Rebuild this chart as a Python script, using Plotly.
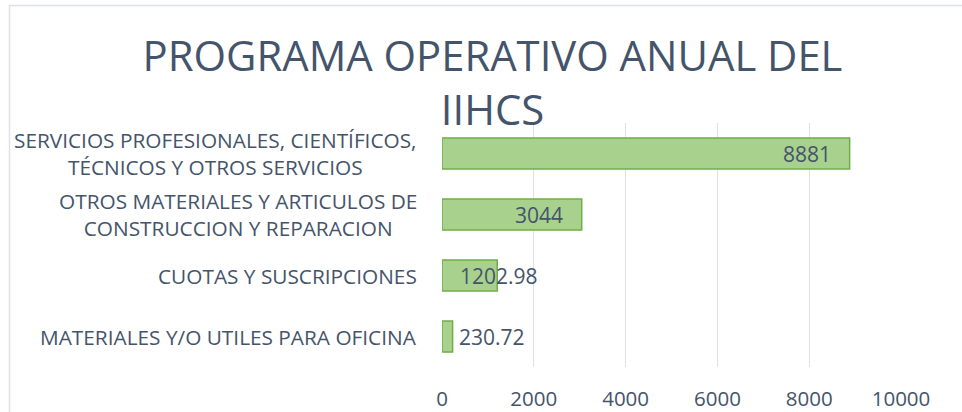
import plotly.graph_objects as go

categories = [
    "SERVICIOS PROFESIONALES, CIENTÍFICOS,<br>TÉCNICOS Y OTROS SERVICIOS",
    "OTROS MATERIALES Y ARTICULOS DE<br>CONSTRUCCION Y REPARACION",
    "CUOTAS Y SUSCRIPCIONES",
    "MATERIALES Y/O UTILES PARA OFICINA",
]
values = [8881, 3044, 1202.98, 230.72]
value_labels = ["8881", "3044", "1202.98", "230.72"]
x_ticks = [0, 2000, 4000, 6000, 8000, 10000]

# label placement per bar: inside end, inside end, start-clamped, outside end
label_modes = ["inside", "inside", "clamp", "outside"]

TXT = "#44546a"
FONT = "Open Sans"
W, H = 962, 412
L, R, T, B = 442, 61, 123, 45

fig = go.Figure()
fig.add_trace(go.Bar(
    y=categories, x=values, orientation="h",
    marker=dict(color="#a9d18e", line=dict(color="#70ad47", width=1.5)),
    hoverinfo="skip",
))

ann = []
for cat, v, lab, mode in zip(categories, values, value_labels, label_modes):
    if mode == "inside":
        ann.append(dict(x=v, y=cat, xref="x", yref="y", text=lab, showarrow=False,
                        xanchor="right", xshift=-17, font=dict(size=21, color=TXT, family=FONT)))
    elif mode == "clamp":
        ann.append(dict(x=0, y=cat, xref="x", yref="y", text=lab, showarrow=False,
                        xanchor="left", xshift=16, font=dict(size=21, color=TXT, family=FONT)))
    else:
        ann.append(dict(x=v, y=cat, xref="x", yref="y", text=lab, showarrow=False,
                        xanchor="left", xshift=4, font=dict(size=21, color=TXT, family=FONT)))
    ann.append(dict(x=0, y=cat, xref="paper", yref="y", text=cat, showarrow=False,
                    xanchor="right", xshift=-23, align="center",
                    font=dict(size=20.8, color=TXT, family=FONT)))

pw = W - L - R
ph = H - T - B
fig.add_shape(type="rect", xref="paper", yref="paper",
              x0=(9.5 - L) / pw, x1=(W + 20 - L) / pw,
              y0=-(B + 20) / ph, y1=1 + (T - 5.5) / ph,
              line=dict(color="#dde2e9", width=1.5), layer="below")

fig.update_layout(
    width=W, height=H,
    margin=dict(l=L, r=R, t=T, b=B, autoexpand=False),
    paper_bgcolor="white", plot_bgcolor="white",
    bargap=0.49,
    showlegend=False,
    title=dict(text="PROGRAMA OPERATIVO ANUAL DEL<br>IIHCS", x=492.5 / W, xanchor="center",
               yref="container", y=1 - 71 / H, yanchor="top",
               font=dict(size=41.8, color=TXT, family=FONT)),
    annotations=ann,
    font=dict(family=FONT, color=TXT),
)
fig.update_xaxes(range=[0, 10000], tickvals=x_ticks, ticktext=[str(t) for t in x_ticks],
                 showgrid=True, gridcolor="#dde2e9", gridwidth=1.3, zeroline=False,
                 showline=False, ticks="", ticklabelstandoff=17, automargin=False,
                 tickfont=dict(size=20.5, color=TXT, family=FONT))
fig.update_yaxes(autorange="reversed", showticklabels=False, showgrid=False,
                 zeroline=False, showline=False, automargin=False)

fig.write_html("out.html", config={"displayModeBar": False},
               post_script="document.body.style.margin='0';")
